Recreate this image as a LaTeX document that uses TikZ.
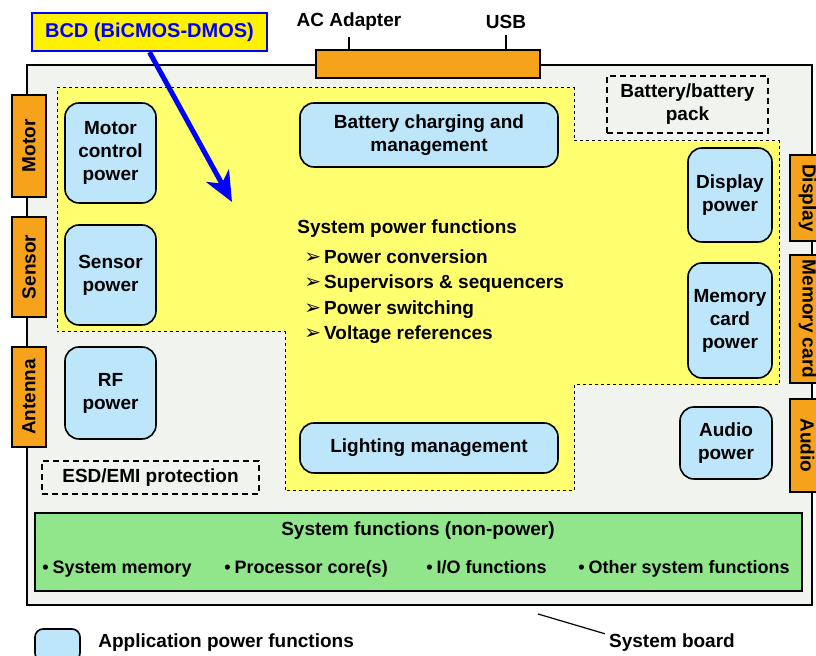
\documentclass[tikz,border=0pt]{standalone}
\usepackage{fontspec}
\setmainfont{Liberation Sans}
\newfontfamily\dingfont{DejaVu Sans}
\usetikzlibrary{arrows.meta}
\definecolor{portorange}{HTML}{F7A21B}
\definecolor{appblue}{HTML}{BDE6FB}
\definecolor{syspwr}{HTML}{FFFF70}
\definecolor{sysgreen}{HTML}{91E58B}
\definecolor{boardgray}{HTML}{F1F3EE}

\begin{document}
\begin{tikzpicture}[x=0.5pt, y=-0.5pt,
    every node/.style={font=\bfseries\fontsize{9.5}{11.5}\selectfont, inner sep=0pt},
    appbox/.style={draw, line width=0.8pt, rounded corners=7pt, fill=appblue, align=center},
    port/.style={draw, line width=0.8pt, fill=portorange},
    dashbox/.style={draw, dash pattern=on 3pt off 2pt, line width=0.6pt, fill=boardgray, align=center},
    sysitem/.style={anchor=base west, font=\bfseries\fontsize{9}{11}\selectfont}]
    \useasboundingbox (0,0) rectangle (816,656);
    % board and connectors
    \node[draw, line width=1pt, fill=boardgray, minimum width=392.5pt, minimum height=270pt] (board) at (419.5,335) {};
    \node[port, minimum width=112pt, minimum height=14pt] (topport) at (428,64) {};
    \node (aclabel) at (349,22) {AC Adapter};
    \node (usblabel) at (506,22) {USB};
    \draw[line width=0.8pt] ([yshift=-3pt]aclabel.south) -- (aclabel.south |- topport.north);
    \draw[line width=0.8pt] ([yshift=-3pt]usblabel.south) -- (usblabel.south |- topport.north);
    \node[port, rotate=90, minimum width=51pt, minimum height=17pt] (motorport) at (29,146) {Motor};
    \node[port, rotate=90, minimum width=50pt, minimum height=17pt] (sensorport) at (29,267) {Sensor};
    \node[port, rotate=90, minimum width=50pt, minimum height=17pt] (antport) at (29,397) {Antenna};
    \node[port, rotate=-90, minimum width=43pt, minimum height=17.5pt] (dispport) at (807.5,198) {Display};
    \node[port, rotate=-90, minimum width=64pt, minimum height=17.5pt] (memport) at (807.5,319) {Memory card};
    \node[port, rotate=-90, minimum width=46.5pt, minimum height=17.5pt] (audioport) at (807.5,445.5) {Audio};
    % system power region
    \draw[fill=syspwr, dash pattern=on 1.5pt off 1.5pt, line width=0.5pt]
        (57,88) -- (574,88) -- (574,141) -- (779,141) -- (779,385) -- (574,385)
        -- (574,491) -- (285,491) -- (285,332) -- (57,332) -- cycle;
    \node[dashbox, minimum width=80.5pt, minimum height=28.5pt] (battery) at (687.5,104.5) {Battery/battery\\pack};
    \node[dashbox, minimum width=108.5pt, minimum height=16.5pt] (esd) at (150.5,477.5) {ESD/EMI protection};
    % application power functions
    \node[appbox, minimum width=45.5pt, minimum height=50pt] (motor) at (110.5,153) {Motor\\control\\power};
    \node[appbox, minimum width=45.5pt, minimum height=50pt] (sensor) at (110.5,275) {Sensor\\power};
    \node[appbox, minimum width=45.5pt, minimum height=46pt] (rf) at (110.5,393) {RF\\power};
    \node[appbox, minimum width=129pt, minimum height=32pt] (charging) at (429,135) {Battery charging and\\management};
    \node[appbox, minimum width=129pt, minimum height=25pt] (lighting) at (429,448) {Lighting management};
    \node[appbox, minimum width=42pt, minimum height=47pt] (display) at (730,195) {Display\\power};
    \node[appbox, minimum width=42pt, minimum height=57.5pt] (memcard) at (730,320.5) {Memory\\card\\power};
    \node[appbox, minimum width=46pt, minimum height=36pt] (audio) at (726,443) {Audio\\power};
    % system power functions list
    \node[anchor=base west] (spftitle) at (297,233.5) {System power functions};
    \foreach \t [count=\i] in {Power conversion, Supervisors \& sequencers, Power switching, Voltage references}
        \node[anchor=base west] (spf\i) at (304,238+25.5*\i) {{\dingfont\fontsize{10}{10}\selectfont ➢}\hspace{1.5pt}\t};
    % non-power system functions
    \node[draw, line width=0.8pt, fill=sysgreen, minimum width=383.5pt, minimum height=39pt] (sysfn) at (418.5,552) {};
    \node (sysfntitle) at (418,531) {System functions (non-power)};
    \node[sysitem] (sf1) at (42,574) {\textbullet\hspace{2pt}System memory};
    \node[sysitem] (sf2) at (224,574) {\textbullet\hspace{2pt}Processor core(s)};
    \node[sysitem] (sf3) at (426,574) {\textbullet\hspace{2pt}I/O functions};
    \node[sysitem] (sf4) at (578,574) {\textbullet\hspace{2pt}Other system functions};
    % BCD callout
    \node[draw=blue, line width=1.2pt, fill=yellow, text=blue, font=\bfseries\fontsize{10}{12}\selectfont,
        minimum width=117.5pt, minimum height=19pt] (bcd) at (149.5,32) {BCD (BiCMOS-DMOS)};
    \coordinate (bcdtip) at (232,202);
    \draw[blue, line width=2.5pt, -{Stealth[length=15pt, width=13pt, inset=4.5pt]}] (bcd.south) -- (bcdtip);
    % legend and board label
    \node[draw, line width=0.8pt, rounded corners=4pt, fill=appblue, minimum width=22.5pt, minimum height=16pt] (legbox) at (57.5,645) {};
    \node[anchor=west] (legtext) at (98,643) {Application power functions};
    \node (sblabel) at (672,643) {System board};
    \coordinate (sbpt) at (538,614);
    \draw[line width=0.6pt] (sbpt) -- ([xshift=-2pt]sblabel.north west);
\end{tikzpicture}
\end{document}
